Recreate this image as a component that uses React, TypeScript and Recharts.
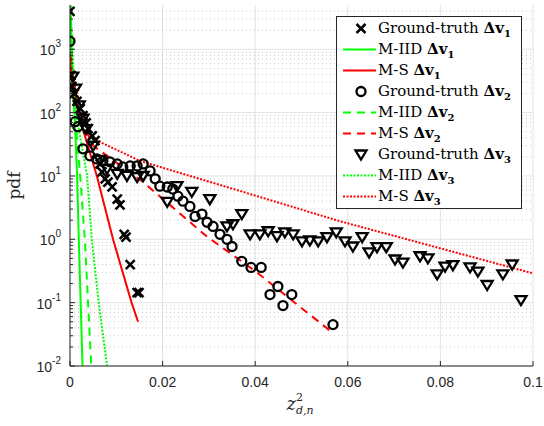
import React from 'react';
import { ComposedChart, Line, Scatter, XAxis, YAxis, CartesianGrid, ReferenceLine, Legend, Label } from 'recharts';

// axis ticks
const xTicks = [0, 0.02, 0.04, 0.06, 0.08, 0.1];
const xTickLabels = ['0', '0.02', '0.04', '0.06', '0.08', '0.1'];
const yDecades = [0.01, 0.1, 1, 10, 100, 1000];
const yExponents = ['-2', '-1', '0', '1', '2', '3'];
const yMinorSteps = [2, 3, 4, 5, 6, 7, 8, 9];

// ground truth, Δv1 (crosses)
const gt1X = [0, 0.0002, 0.0004, 0.0009, 0.0015, 0.0022, 0.0028, 0.0035, 0.0039, 0.0048, 0.0054, 0.0065, 0.0069, 0.0076, 0.0082, 0.0091, 0.0102, 0.0108, 0.0117, 0.0121, 0.013, 0.0145, 0.0149];
const gt1Y = [3980, 387, 259, 200, 150, 116, 90, 69, 56, 43, 36, 15.5, 11.6, 9, 8, 6.7, 4.3, 3.5, 1.2, 1.08, 0.4, 0.144, 0.144];

// ground truth, Δv2 (circles)
const gt2X = [0, 0.0011, 0.0017, 0.0028, 0.0043, 0.0058, 0.0071, 0.0086, 0.0102, 0.0114, 0.013, 0.0145, 0.0158, 0.0173, 0.0184, 0.0194, 0.021, 0.0222, 0.0233, 0.0244, 0.0259, 0.027, 0.0285, 0.0296, 0.0309, 0.0324, 0.0339, 0.035, 0.0371, 0.0391, 0.0413, 0.0432, 0.0449, 0.046, 0.0479, 0.0568];
const gt2Y = [1340, 72, 60, 26.8, 20.8, 18.6, 17.3, 16.7, 15.5, 13.9, 14.4, 14.4, 15.5, 12, 9, 6.9, 6.7, 6.2, 4.8, 4, 3.3, 2.3, 2.5, 1.86, 1.6, 1.2, 1.0, 0.77, 0.45, 0.36, 0.36, 0.134, 0.18, 0.09, 0.134, 0.045];

// ground truth, Δv3 (triangles)
const gt3X = [0.0006, 0.0012, 0.002, 0.0028, 0.0035, 0.005, 0.0065, 0.008, 0.0102, 0.0123, 0.0145, 0.0158, 0.021, 0.0231, 0.0263, 0.0302, 0.0339, 0.0352, 0.0371, 0.0389, 0.041, 0.0428, 0.0447, 0.0464, 0.0482, 0.0501, 0.0518, 0.0536, 0.0555, 0.0575, 0.0594, 0.0611, 0.0631, 0.0646, 0.0663, 0.0683, 0.0702, 0.0719, 0.0756, 0.0773, 0.0793, 0.081, 0.0827, 0.0864, 0.0881, 0.0901, 0.0935, 0.0955, 0.0974];
const gt3Y = [370, 240, 130, 80, 55, 30, 18, 13, 10.8, 10, 9.6, 10, 3.9, 6.9, 5.6, 4.3, 1.6, 1.73, 2.5, 1.2, 1.2, 1.34, 1.12, 1.29, 1.2, 0.93, 0.96, 0.93, 1.08, 1.29, 0.93, 0.77, 1.08, 0.62, 0.75, 0.75, 0.48, 0.43, 0.54, 0.5, 0.28, 0.37, 0.39, 0.36, 0.31, 0.19, 0.28, 0.4, 0.11];

// M-IID model curves
const iid1X = [0, 0.0005, 0.001, 0.0015, 0.0019, 0.0023, 0.0027];
const iid1Y = [8000, 300, 90, 12, 1, 0.1, 0.01];
const iid2X = [0, 0.0007, 0.0015, 0.0022, 0.0032, 0.0039, 0.0046];
const iid2Y = [8000, 200, 40, 10, 1, 0.1, 0.01];
const iid3X = [0, 0.001, 0.002, 0.0037, 0.0047, 0.0062, 0.008];
const iid3Y = [8000, 150, 50, 10, 1, 0.1, 0.01];

// M-S model curves
const ms1X = [0, 0.0017, 0.0058, 0.0093, 0.0133, 0.0147];
const ms1Y = [900, 100, 10, 1, 0.1, 0.05];
const ms2X = [0, 0.002, 0.005, 0.0158, 0.0296, 0.0404, 0.0568];
const ms2Y = [600, 90, 30, 8, 1.1, 0.3, 0.033];
const ms3X = [0, 0.0015, 0.003, 0.0045, 0.007, 0.0151, 0.0367, 0.0583, 0.08, 0.1];
const ms3Y = [500, 200, 80, 42, 33, 17.3, 5.8, 1.93, 0.72, 0.29];

const zip = (xs: number[], ys: number[]) => xs.map((x, i) => ({ x, y: ys[i] }));

const yMinor = yDecades.flatMap((d) => yMinorSteps.map((s) => s * d)).filter((v) => v < 5000);

const AX = '#262626';
const GREEN = '#00ff00';
const RED = '#ff0000';

const tickFont = { fontFamily: '"Liberation Sans", Arial, sans-serif', fontSize: 14, fill: AX };

function BottomTick({ x, y, payload }: any) {
  const i = xTicks.indexOf(payload.value);
  return (
    <g>
      <line x1={x} y1={y} x2={x} y2={y - 5} stroke={AX} />
      <text x={x} y={y + 21} textAnchor="middle" {...tickFont}>{xTickLabels[i]}</text>
    </g>
  );
}

function TopTick({ x, y }: any) {
  return <line x1={x} y1={y} x2={x} y2={y + 5} stroke={AX} />;
}

function LeftTick({ x, y, payload }: any) {
  const i = yDecades.indexOf(payload.value);
  const major = i >= 0;
  return (
    <g>
      <line x1={x} y1={y} x2={x + (major ? 5 : 3)} y2={y} stroke={AX} />
      {major && (
        <text x={x - 9} y={y + 6} textAnchor="end" {...tickFont}>
          <tspan>10</tspan>
          <tspan dy={-8} fontSize={10}>{yExponents[i]}</tspan>
        </text>
      )}
    </g>
  );
}

function RightTick({ x, y, payload }: any) {
  const major = yDecades.indexOf(payload.value) >= 0;
  return <line x1={x} y1={y} x2={x - (major ? 5 : 3)} y2={y} stroke={AX} />;
}

const Cross = ({ cx, cy }: any) => (
  <g stroke="#000" strokeWidth={2.5}>
    <line x1={cx - 4.5} y1={cy - 4.5} x2={cx + 4.5} y2={cy + 4.5} />
    <line x1={cx - 4.5} y1={cy + 4.5} x2={cx + 4.5} y2={cy - 4.5} />
  </g>
);
const Ring = ({ cx, cy }: any) => <circle cx={cx} cy={cy} r={4.5} fill="none" stroke="#000" strokeWidth={2.3} />;
const TriDown = ({ cx, cy }: any) => (
  <polygon points={`${cx - 5.5},${cy - 4} ${cx + 5.5},${cy - 4} ${cx},${cy + 5}`} fill="none" stroke="#000" strokeWidth={2.3} strokeLinejoin="miter" />
);

type Entry = { label: string; idx: string; kind: 'cross' | 'ring' | 'tri' | 'line'; color?: string; dash?: string };
const legendEntries: Entry[] = [
  { label: 'Ground-truth', idx: '1', kind: 'cross' },
  { label: 'M-IID', idx: '1', kind: 'line', color: GREEN },
  { label: 'M-S', idx: '1', kind: 'line', color: RED },
  { label: 'Ground-truth', idx: '2', kind: 'ring' },
  { label: 'M-IID', idx: '2', kind: 'line', color: GREEN, dash: '8 6' },
  { label: 'M-S', idx: '2', kind: 'line', color: RED, dash: '8 6' },
  { label: 'Ground-truth', idx: '3', kind: 'tri' },
  { label: 'M-IID', idx: '3', kind: 'line', color: GREEN, dash: '2 1.5' },
  { label: 'M-S', idx: '3', kind: 'line', color: RED, dash: '2 1.5' },
];

function LegendBox() {
  return (
    <div style={{ width: 184, height: 190, border: `1px solid ${AX}`, background: '#fff', paddingTop: 1, fontFamily: '"DejaVu Serif", serif', fontSize: 15, color: '#000' }}>
      {legendEntries.map((e, k) => (
        <div key={k} style={{ height: 21, display: 'flex', alignItems: 'center', whiteSpace: 'nowrap' }}>
          <svg width={41} height={21} style={{ flex: 'none' }}>
            {e.kind === 'line' && <line x1={6} y1={10.5} x2={39} y2={10.5} stroke={e.color} strokeWidth={2} strokeDasharray={e.dash} />}
            {e.kind === 'cross' && <Cross cx={24} cy={10.5} />}
            {e.kind === 'ring' && <Ring cx={24} cy={10.5} />}
            {e.kind === 'tri' && <TriDown cx={24} cy={10.5} />}
          </svg>
          <span style={{ lineHeight: '21px' }}>
            {e.label}{' '}
            <b>Δv<span style={{ fontSize: 10, position: 'relative', top: 4 }}>{e.idx}</span></b>
          </span>
        </div>
      ))}
    </div>
  );
}

export default function App() {
  return (
    <div style={{ width: 544, height: 426, background: '#fff' }}>
      <style>{'body{margin:0}'}</style>
      <ComposedChart width={544} height={426} margin={{ top: 5, right: 11, bottom: 0, left: 0 }}>
        <CartesianGrid horizontal={false} stroke="#e3e3e3" />
        {yMinor.map((v) => (
          <ReferenceLine key={'m' + v} y={v} stroke="#c8c8c8" strokeDasharray="1 3" />
        ))}
        {yDecades.map((v) => (
          <ReferenceLine key={'d' + v} y={v} stroke="#e3e3e3" />
        ))}
        <XAxis dataKey="x" type="number" domain={[0, 0.1]} ticks={xTicks} interval={0} allowDataOverflow height={60}
          tickSize={0} tickMargin={0} tickLine={false} axisLine={{ stroke: AX }} tick={<BottomTick />}>
          <Label content={({ viewBox }: any) => (
            <text x={viewBox.x + viewBox.width / 2 - 15} y={viewBox.y + 44} fontFamily='"DejaVu Serif", serif' fill={AX}>
              <tspan fontStyle="italic" fontSize={18}>z</tspan>
              <tspan dy={-9} fontSize={11}>2</tspan>
              <tspan dx={-7} dy={13} fontSize={11} fontStyle="italic">d,n</tspan>
            </text>
          )} />
        </XAxis>
        <XAxis xAxisId="top" orientation="top" type="number" domain={[0, 0.1]} ticks={xTicks} interval={0} height={0}
          tickSize={0} tickMargin={0} tickLine={false} axisLine={{ stroke: AX }} tick={<TopTick />} />
        <YAxis dataKey="y" scale="log" type="number" domain={[0.01, 5000]} allowDataOverflow ticks={[...yDecades, ...yMinor]} interval={0}
          width={70} tickSize={0} tickMargin={0} tickLine={false} axisLine={{ stroke: AX }} tick={<LeftTick />}>
          <Label content={({ viewBox }: any) => (
            <text x={viewBox.x + 20} y={viewBox.y + viewBox.height / 2} textAnchor="middle" transform={`rotate(-90 ${viewBox.x + 20} ${viewBox.y + viewBox.height / 2})`}
              fontFamily='"DejaVu Serif", serif' fontSize={17} fill={AX}>pdf</text>
          )} />
        </YAxis>
        <YAxis yAxisId="right" orientation="right" scale="log" type="number" domain={[0.01, 5000]} allowDataOverflow ticks={[...yDecades, ...yMinor]} interval={0}
          width={0} tickSize={0} tickMargin={0} tickLine={false} axisLine={{ stroke: AX }} tick={<RightTick />} />

        <Scatter data={zip(gt1X, gt1Y)} shape={<Cross />} isAnimationActive={false} />
        <Line data={zip(iid1X, iid1Y)} dataKey="y" stroke={GREEN} strokeWidth={2} dot={false} isAnimationActive={false} />
        <Line data={zip(ms1X, ms1Y)} dataKey="y" stroke={RED} strokeWidth={2} dot={false} isAnimationActive={false} />
        <Scatter data={zip(gt2X, gt2Y)} shape={<Ring />} isAnimationActive={false} />
        <Line data={zip(iid2X, iid2Y)} dataKey="y" stroke={GREEN} strokeWidth={2} strokeDasharray="8 6" dot={false} isAnimationActive={false} />
        <Line data={zip(ms2X, ms2Y)} dataKey="y" stroke={RED} strokeWidth={2} strokeDasharray="8 6" dot={false} isAnimationActive={false} />
        <Scatter data={zip(gt3X, gt3Y)} shape={<TriDown />} isAnimationActive={false} />
        <Line data={zip(iid3X, iid3Y)} dataKey="y" stroke={GREEN} strokeWidth={2} strokeDasharray="2 1.5" dot={false} isAnimationActive={false} />
        <Line data={zip(ms3X, ms3Y)} dataKey="y" stroke={RED} strokeWidth={2} strokeDasharray="2 1.5" dot={false} isAnimationActive={false} />

        <Legend layout="vertical" align="center" verticalAlign="middle" content={() => <LegendBox />}
          wrapperStyle={{ left: 336, top: 16, width: 186, height: 192 }} />
      </ComposedChart>
    </div>
  );
}
